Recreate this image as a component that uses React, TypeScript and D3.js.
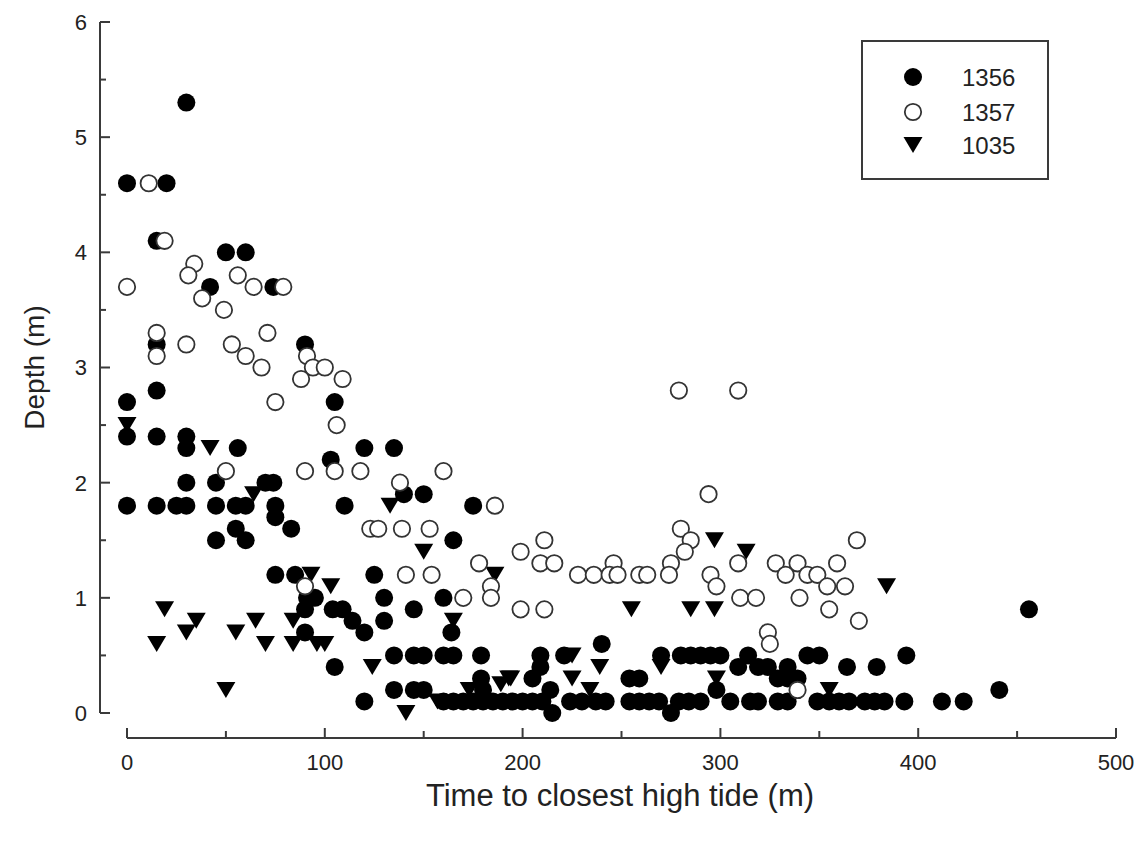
import React from "react";
import * as d3 from "d3";

const W = 1144;
const H = 844;

const xTicksMajor = [0, 100, 200, 300, 400, 500];
const xTicksMinor = [50, 150, 250, 350, 450];
const yTicksMajor = [0, 1, 2, 3, 4, 5, 6];
const yTicksMinor = [0.5, 1.5, 2.5, 3.5, 4.5, 5.5];

const seriesNames = ["1356", "1357", "1035"];

// series 1356 (filled circles): [time, depth]
const s1356: [number, number][] = [
  [30, 5.3], [0, 4.6], [20, 4.6], [15, 4.1], [50, 4.0], [60, 4.0], [42, 3.7], [74, 3.7],
  [15, 3.2], [90, 3.2], [15, 2.8], [0, 2.7], [105, 2.7], [0, 2.4], [15, 2.4], [30, 2.4],
  [30, 2.3], [56, 2.3], [120, 2.3], [135, 2.3], [103, 2.2], [30, 2.0], [45, 2.0], [70, 2.0],
  [74, 2.0], [140, 1.9], [150, 1.9], [0, 1.8], [15, 1.8], [25, 1.8], [30, 1.8], [45, 1.8],
  [55, 1.8], [60, 1.8], [75, 1.8], [110, 1.8], [175, 1.8], [75, 1.7], [55, 1.6], [83, 1.6],
  [45, 1.5], [60, 1.5], [165, 1.5], [75, 1.2], [85, 1.2], [125, 1.2], [91, 1.0], [95, 1.0],
  [130, 1.0], [160, 1.0], [90, 0.9], [104, 0.9], [109, 0.9], [145, 0.9], [456, 0.9],
  [114, 0.8], [130, 0.8], [90, 0.7], [120, 0.7], [164, 0.7], [240, 0.6],
  [135, 0.5], [145, 0.5], [150, 0.5], [160, 0.5], [165, 0.5], [179, 0.5], [209, 0.5], [221, 0.5],
  [270, 0.5], [280, 0.5], [285, 0.5], [290, 0.5], [295, 0.5], [300, 0.5], [314, 0.5], [344, 0.5],
  [350, 0.5], [394, 0.5],
  [105, 0.4], [209, 0.4], [309, 0.4], [319, 0.4], [324, 0.4], [334, 0.4], [364, 0.4], [379, 0.4],
  [179, 0.3], [205, 0.3], [254, 0.3], [259, 0.3], [329, 0.3], [334, 0.3], [339, 0.3],
  [135, 0.2], [145, 0.2], [150, 0.2], [180, 0.2], [214, 0.2], [298, 0.2], [441, 0.2],
  [120, 0.1], [160, 0.1], [165, 0.1], [170, 0.1], [175, 0.1], [180, 0.1], [185, 0.1], [190, 0.1],
  [195, 0.1], [200, 0.1], [205, 0.1], [210, 0.1], [224, 0.1], [230, 0.1], [237, 0.1], [242, 0.1],
  [254, 0.1], [259, 0.1], [264, 0.1], [269, 0.1], [279, 0.1], [284, 0.1], [290, 0.1], [305, 0.1],
  [315, 0.1], [319, 0.1], [329, 0.1], [334, 0.1], [349, 0.1], [355, 0.1], [360, 0.1], [365, 0.1],
  [373, 0.1], [378, 0.1], [383, 0.1], [393, 0.1], [412, 0.1], [423, 0.1],
  [215, 0.0], [275, 0.0],
];

// series 1357 (open circles)
const s1357: [number, number][] = [
  [11, 4.6], [19, 4.1], [34, 3.9], [31, 3.8], [56, 3.8], [0, 3.7], [64, 3.7], [79, 3.7],
  [38, 3.6], [49, 3.5], [15, 3.3], [71, 3.3], [30, 3.2], [53, 3.2], [15, 3.1], [60, 3.1],
  [91, 3.1], [68, 3.0], [94, 3.0], [100, 3.0], [88, 2.9], [109, 2.9], [75, 2.7], [106, 2.5],
  [50, 2.1], [90, 2.1], [105, 2.1], [118, 2.1], [160, 2.1], [138, 2.0], [186, 1.8],
  [280, 1.6], [123, 1.6], [127, 1.6], [139, 1.6], [153, 1.6], [211, 1.5], [285, 1.5], [369, 1.5],
  [199, 1.4], [282, 1.4], [178, 1.3], [209, 1.3], [216, 1.3], [246, 1.3], [275, 1.3], [309, 1.3],
  [328, 1.3], [339, 1.3], [359, 1.3], [141, 1.2], [154, 1.2], [228, 1.2], [236, 1.2], [244, 1.2],
  [248, 1.2], [259, 1.2], [263, 1.2], [274, 1.2], [295, 1.2], [333, 1.2], [344, 1.2], [349, 1.2],
  [184, 1.1], [90, 1.1], [298, 1.1], [354, 1.1], [363, 1.1], [170, 1.0], [184, 1.0], [310, 1.0],
  [318, 1.0], [340, 1.0], [199, 0.9], [211, 0.9], [355, 0.9], [370, 0.8], [324, 0.7], [325, 0.6],
  [339, 0.2], [279, 2.8], [309, 2.8], [294, 1.9],
];

// series 1035 (down triangles)
const s1035: [number, number][] = [
  [0, 2.5], [42, 2.3], [64, 1.9], [133, 1.8], [150, 1.4], [93, 1.2], [186, 1.2], [103, 1.1],
  [19, 0.9], [255, 0.9], [285, 0.9], [297, 0.9], [35, 0.8], [65, 0.8], [84, 0.8], [165, 0.8],
  [30, 0.7], [55, 0.7], [15, 0.6], [70, 0.6], [84, 0.6], [96, 0.6], [100, 0.6], [50, 0.2],
  [124, 0.4], [141, 0.0], [297, 1.5], [313, 1.4], [384, 1.1], [225, 0.5], [239, 0.4], [270, 0.4],
  [194, 0.3], [225, 0.3], [234, 0.2], [298, 0.3], [355, 0.2], [157, 0.1], [173, 0.2], [189, 0.25],
  [193, 0.3],
];

const FONT = "'Liberation Sans', Arial, Helvetica, sans-serif";
const AX = "#3a3a3a";
const R = 9;

const tri = (cx: number, cy: number, w = 19, h = 16) =>
  `M${cx - w / 2},${cy - h / 2}L${cx + w / 2},${cy - h / 2}L${cx},${cy + h / 2}Z`;

export default function App() {
  const x = d3.scaleLinear().domain([0, 500]).range([127, 1116]);
  const y = d3.scaleLinear().domain([0, 6]).range([713, 22]);
  const yAxisX = 100;
  const xAxisY = 738;

  const legendRows = [77, 112, 145];

  return (
    <div style={{ position: "fixed", left: 0, top: 0, width: W, height: H, background: "#fff" }}>
      <svg width={W} height={H} style={{ display: "block", fontFamily: FONT }}>
        <rect width={W} height={H} fill="#fff" />
        {/* Y axis */}
        <line x1={yAxisX} x2={yAxisX} y1={y(6)} y2={y(0)} stroke={AX} strokeWidth={2} />
        {yTicksMajor.map((t) => (
          <g key={"ym" + t}>
            <line x1={yAxisX} x2={yAxisX + 10} y1={y(t)} y2={y(t)} stroke={AX} strokeWidth={2} />
            <text x={87} y={y(t)} dy="0.36em" textAnchor="end" fontSize={22} fill="#222">
              {t}
            </text>
          </g>
        ))}
        {yTicksMinor.map((t) => (
          <line key={"yn" + t} x1={yAxisX} x2={yAxisX + 6} y1={y(t)} y2={y(t)} stroke={AX} strokeWidth={2} />
        ))}
        {/* X axis */}
        <line x1={x(0)} x2={x(500)} y1={xAxisY} y2={xAxisY} stroke={AX} strokeWidth={2} />
        {xTicksMajor.map((t) => (
          <g key={"xm" + t}>
            <line x1={x(t)} x2={x(t)} y1={xAxisY} y2={xAxisY - 10} stroke={AX} strokeWidth={2} />
            <text x={x(t)} y={770} textAnchor="middle" fontSize={22} fill="#222">
              {t}
            </text>
          </g>
        ))}
        {xTicksMinor.map((t) => (
          <line key={"xn" + t} x1={x(t)} x2={x(t)} y1={xAxisY} y2={xAxisY - 7} stroke={AX} strokeWidth={2} />
        ))}
        {/* Titles */}
        <text x={620} y={806} textAnchor="middle" fontSize={31} fill="#222">
          Time to closest high tide (m)
        </text>
        <text
          transform={`translate(44,${y(3)}) rotate(-90)`}
          textAnchor="middle"
          fontSize={28}
          fill="#222"
        >
          Depth (m)
        </text>

        {/* Data */}
        {s1356.map((d, i) => (
          <circle key={"a" + i} cx={x(d[0])} cy={y(d[1])} r={R} fill="#000" />
        ))}
        {s1035.map((d, i) => (
          <path key={"c" + i} d={tri(x(d[0]), y(d[1]))} fill="#000" />
        ))}
        {s1357.map((d, i) => (
          <circle key={"b" + i} cx={x(d[0])} cy={y(d[1])} r={R - 0.8} fill="#fff" stroke="#333" strokeWidth={1.8} />
        ))}

        {/* Legend */}
        <rect x={862} y={41} width={186} height={138} fill="#fff" stroke={AX} strokeWidth={2} />
        <circle cx={913} cy={legendRows[0]} r={R} fill="#000" />
        <circle cx={913} cy={legendRows[1]} r={R - 0.8} fill="#fff" stroke="#333" strokeWidth={1.8} />
        <path d={tri(913, legendRows[2])} fill="#000" />
        {seriesNames.map((n, i) => (
          <text key={n} x={962} y={legendRows[i]} dy="0.36em" fontSize={24} fill="#222">
            {n}
          </text>
        ))}
      </svg>
    </div>
  );
}
